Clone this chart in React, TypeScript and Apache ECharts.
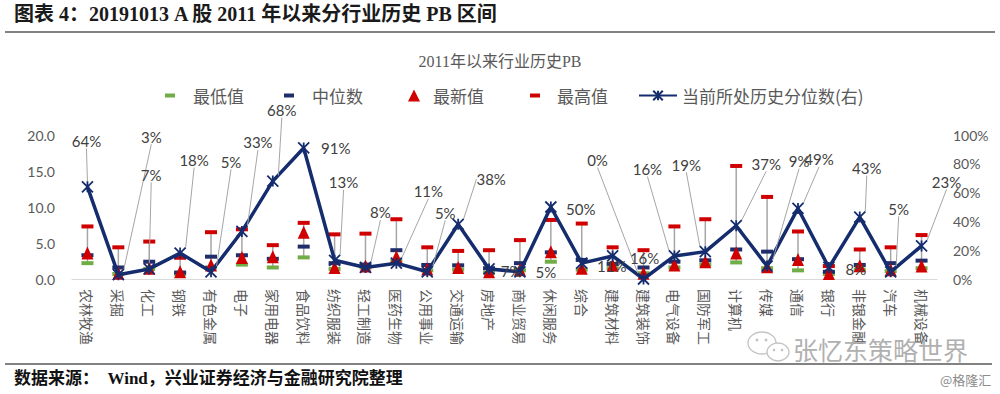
import React, { useEffect, useRef } from 'react';
import * as echarts from 'echarts';

const CATEGORIES = ['农林牧渔', '采掘', '化工', '钢铁', '有色金属', '电子', '家用电器', '食品饮料', '纺织服装', '轻工制造', '医药生物', '公用事业', '交通运输', '房地产', '商业贸易', '休闲服务', '综合', '建筑材料', '建筑装饰', '电气设备', '国防军工', '计算机', '传媒', '通信', '银行', '非银金融', '汽车', '机械设备'];
const PB_MIN = [2.2, 0.7, 1.4, 0.7, 1.6, 2.0, 1.6, 3.0, 1.4, 1.6, 2.5, 1.2, 1.3, 0.9, 1.2, 2.4, 1.3, 1.5, 0.8, 1.6, 2.0, 2.3, 1.5, 1.2, 0.7, 1.3, 1.1, 1.5];
const PB_MEDIAN = [3.3, 1.6, 2.4, 0.9, 3.1, 3.3, 2.8, 4.5, 2.2, 2.0, 4.0, 1.95, 1.9, 1.5, 2.2, 3.7, 2.65, 2.1, 1.6, 2.4, 2.6, 4.1, 3.8, 2.75, 1.0, 1.95, 2.2, 2.55];
const PB_LATEST = [3.6, 0.8, 1.5, 1.0, 1.95, 3.0, 3.1, 6.5, 1.6, 1.8, 3.1, 1.4, 1.6, 1.0, 1.3, 3.8, 1.5, 1.9, 0.8, 1.95, 2.4, 3.6, 1.7, 2.7, 0.75, 1.85, 1.3, 1.8];
const PB_MAX = [7.3, 4.4, 5.2, 2.95, 6.5, 6.9, 4.7, 7.8, 6.2, 6.3, 8.3, 4.4, 3.9, 4.0, 5.4, 8.2, 7.7, 4.4, 4.0, 7.3, 8.3, 15.7, 11.4, 6.6, 1.8, 4.1, 4.4, 6.1];
const PERCENTILE = [64, 3, 7, 18, 5, 33, 68, 91, 13, 8, 11, 5, 38, 7, 5, 50, 11, 16, 0, 16, 19, 37, 9, 49, 8, 43, 5, 23];

// label placement (offset of label centre from its point, in px) and whether a leader line is drawn
const LABEL_OFFSETS: [number, number, boolean][] = [
  [-1, -46, true], [33, -138, true], [2, -94, true], [14, -93, true], [20, -110, true], [16, -89, true],
  [9, -71, true], [32, 0, false], [9, -78, true], [15, -55, true], [32, -72, true], [18, -59, true],
  [33, -45, true], [22, 2, false], [26, 0, false], [30, 2, false], [30, 3, false], [32, 2, false],
  [-46, -119, true], [-27, -87, true], [-19, -87, true], [30, -62, true], [32, -105, true], [21, -49, true],
  [27, 2, false], [7, -49, true], [8, -63, true], [25, -64, true],
];

const FONT = 'Lato, "Noto Sans CJK SC", sans-serif';
const CJK = '"Noto Sans CJK SC", sans-serif';
const SERIF_CJK = '"Liberation Serif", "Noto Sans CJK SC", serif';
const NAVY = '#152d6e';
const RED = '#d00000';
const GREEN = '#70ad47';
const STAR = 'path://M0,0L10,10M10,0L0,10M5,0L5,10';

export default function App() {
  const ref = useRef<HTMLDivElement>(null);
  useEffect(() => {
    if (!ref.current) return;
    const chart = echarts.init(ref.current, null, { renderer: 'svg' });
    const legendText = { fontSize: 17, color: '#595959', fontFamily: CJK };
    const legendBase = { top: 82, selectedMode: false, itemGap: 0 };
    const option: any = {
      animation: false,
      backgroundColor: '#ffffff',
      title: {
        text: '2011年以来行业历史PB', left: 'center', top: 48,
        textStyle: { fontSize: 16, fontWeight: 'normal', color: '#595959', fontFamily: SERIF_CJK },
      },
      legend: [
        { ...legendBase, left: 160, itemWidth: 10, itemHeight: 4, data: [{ name: '最低值', icon: 'rect' }], textStyle: { ...legendText, padding: [0, 0, 0, 13] } },
        { ...legendBase, left: 279, itemWidth: 10, itemHeight: 4, data: [{ name: '中位数', icon: 'rect' }], textStyle: { ...legendText, padding: [0, 0, 0, 13] } },
        { ...legendBase, left: 403, itemWidth: 12, itemHeight: 12, data: [{ name: '最新值', icon: 'triangle' }], textStyle: { ...legendText, padding: [0, 0, 0, 8] } },
        { ...legendBase, left: 525, itemWidth: 10, itemHeight: 4, data: [{ name: '最高值', icon: 'rect' }], textStyle: { ...legendText, padding: [0, 0, 0, 12] } },
        { ...legendBase, left: 633, itemWidth: 38, itemHeight: 12, data: [{ name: '当前所处历史分位数(右)' }], textStyle: { ...legendText } },
      ],
      grid: { left: 72, right: 63, top: 135, bottom: 115 },
      xAxis: {
        type: 'category', data: CATEGORIES, boundaryGap: true,
        axisLine: { lineStyle: { color: '#d9d9d9', width: 1 } },
        axisTick: { show: false },
        axisLabel: {
          interval: 0, rotate: -90,
          fontSize: 14, color: '#595959', margin: 10, fontFamily: CJK,
        },
      },
      yAxis: [
        {
          type: 'value', min: 0, max: 20, interval: 5,
          axisLine: { show: false }, axisTick: { show: false }, splitLine: { show: false },
          axisLabel: { formatter: (v: number) => v.toFixed(1), fontSize: 14, color: '#595959', margin: 17, fontFamily: FONT },
        },
        {
          type: 'value', min: 0, max: 100, interval: 20, position: 'right',
          axisLine: { show: false }, axisTick: { show: false }, splitLine: { show: false },
          axisLabel: { formatter: '{value}%', fontSize: 14, color: '#595959', margin: 16, fontFamily: FONT },
        },
      ],
      series: [
        {
          type: 'custom', name: 'range', silent: true, z: 1,
          data: CATEGORIES.map((_, i) => [i, PB_MIN[i], PB_MAX[i]]),
          encode: { x: 0, y: [1, 2] },
          renderItem: (params: any, api: any) => {
            const i = api.value(0);
            const lo = api.coord([i, api.value(1)]);
            const hi = api.coord([i, api.value(2)]);
            return {
              type: 'line',
              shape: { x1: lo[0], y1: lo[1], x2: hi[0], y2: hi[1] },
              style: { stroke: '#a6a6a6', lineWidth: 1.5 },
            };
          },
        },
        { type: 'scatter', name: '最低值', data: PB_MIN, symbol: 'rect', symbolSize: [12, 4], itemStyle: { color: GREEN, opacity: 1 }, z: 2 },
        { type: 'scatter', name: '中位数', data: PB_MEDIAN, symbol: 'rect', symbolSize: [12, 4], itemStyle: { color: '#1f2d6b', opacity: 1 }, z: 3 },
        { type: 'scatter', name: '最新值', data: PB_LATEST, symbol: 'triangle', symbolSize: [12, 13], itemStyle: { color: RED, opacity: 1 }, z: 4 },
        { type: 'scatter', name: '最高值', data: PB_MAX, symbol: 'rect', symbolSize: [12, 4], itemStyle: { color: RED, opacity: 1 }, z: 5 },
        {
          type: 'line', name: '当前所处历史分位数(右)', yAxisIndex: 1, z: 10,
          data: PERCENTILE.map((v, i) => ({ value: v, labelLine: { show: LABEL_OFFSETS[i][2] } })),
          symbol: STAR, symbolSize: 11, showAllSymbol: true,
          lineStyle: { color: NAVY, width: 3.5 },
          itemStyle: { color: NAVY, borderColor: NAVY, borderWidth: 1.8 },
          label: {
            show: true, position: 'inside', formatter: (p: any) => p.value + '%',
            fontSize: 15, color: '#404040', fontFamily: FONT,
          },
          labelLine: { show: true, lineStyle: { color: '#a6a6a6', width: 1 } },
          labelLayout: (p: any) => {
            const o = LABEL_OFFSETS[p.dataIndex];
            return {
              x: p.rect.x + p.rect.width / 2 + o[0],
              y: p.rect.y + p.rect.height / 2 + o[1],
              align: 'center', verticalAlign: 'middle',
            };
          },
        },
      ],
      graphic: [
        {
          type: 'text', left: 14, top: 4, z: 20,
          style: { text: '图表 4：20191013 A 股 2011 年以来分行业历史 PB 区间', fontSize: 20, fontWeight: 'bold', fill: '#1a1a1a', fontFamily: SERIF_CJK },
        },
        { type: 'line', z: 20, shape: { x1: 5, y1: 32, x2: 995, y2: 32 }, style: { stroke: '#595959', lineWidth: 1.5 } },
        { type: 'line', z: 20, shape: { x1: 5, y1: 364, x2: 992, y2: 364 }, style: { stroke: '#595959', lineWidth: 1.5 } },
        {
          type: 'text', left: 14, top: 370, z: 20,
          style: { text: '数据来源：  Wind，兴业证券经济与金融研究院整理', fontSize: 17, fontWeight: 'bold', fill: '#111', fontFamily: SERIF_CJK },
        },
        {
          type: 'text', left: 940, top: 373, z: 20,
          style: { text: '@格隆汇', fontSize: 13, fill: '#8c8c8c', fontFamily: CJK },
        },
        {
          type: 'group', z: 20, children: [
            { type: 'ellipse', shape: { cx: 762, cy: 343, rx: 14, ry: 11 }, style: { fill: '#fff', stroke: '#c4c4c4', lineWidth: 1.3 } },
            { type: 'ellipse', shape: { cx: 778, cy: 352, rx: 11, ry: 9 }, style: { fill: '#fff', stroke: '#c4c4c4', lineWidth: 1.3 } },
            { type: 'circle', shape: { cx: 757, cy: 340, r: 1.5 }, style: { fill: '#c4c4c4' } },
            { type: 'circle', shape: { cx: 766, cy: 340, r: 1.5 }, style: { fill: '#c4c4c4' } },
            { type: 'circle', shape: { cx: 774, cy: 350, r: 1.3 }, style: { fill: '#c4c4c4' } },
            { type: 'circle', shape: { cx: 782, cy: 350, r: 1.3 }, style: { fill: '#c4c4c4' } },
          ],
        },
        {
          type: 'text', left: 793, top: 336, z: 20,
          style: { text: '张忆东策略世界', fontSize: 25, fill: '#b0b0b0', fontFamily: CJK },
        },
      ],
    };
    chart.setOption(option);
    return () => chart.dispose();
  }, []);
  return <div ref={ref} style={{ position: 'absolute', left: 0, top: 0, width: 1000, height: 394 }} />;
}
